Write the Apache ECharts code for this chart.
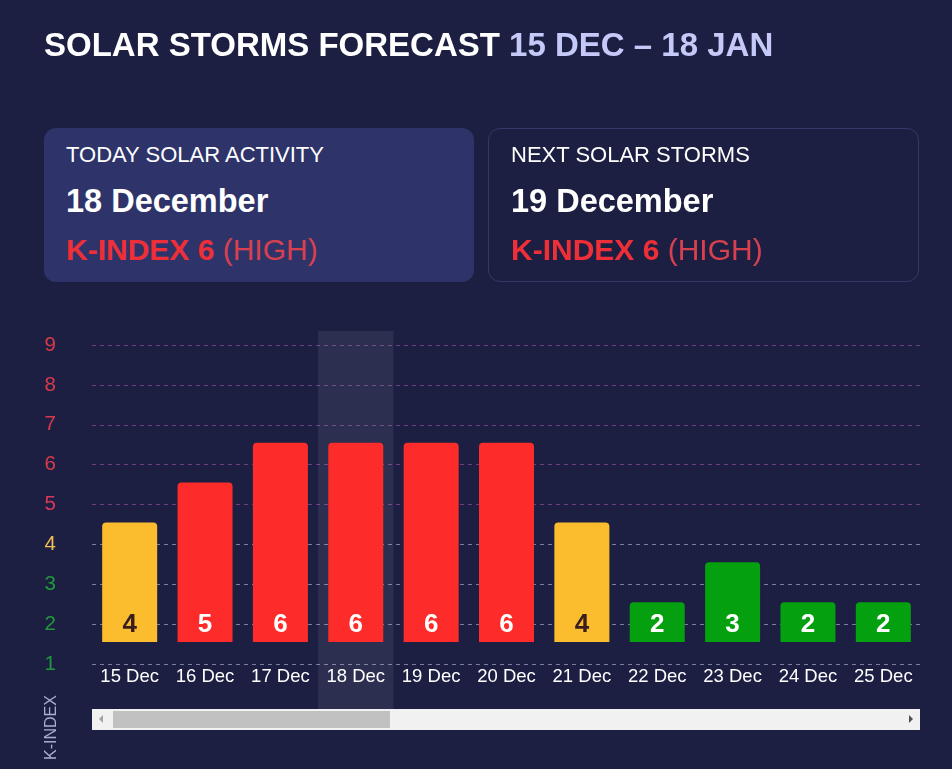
<!DOCTYPE html>
<html>
<head>
<meta charset="utf-8">
<script src="https://cdn.jsdelivr.net/npm/echarts@6/dist/echarts.min.js"></script>
<style>
  html, body { margin: 0; padding: 0; background: #1c1f42; width: 952px; height: 769px; overflow: hidden; font-family: "Liberation Sans", Arial, sans-serif; }
  #chart { position: absolute; left: 0; top: 0; width: 952px; height: 769px; }
  .title { position: absolute; left: 44px; top: 26px; font-size: 33px; line-height: 38px; font-weight: bold; color: #fff; white-space: nowrap; }
  .title span { color: #c5c9f7; }
  .card { position: absolute; top: 128px; width: 430px; height: 154px; border-radius: 12px; box-sizing: border-box; }
  .card.today { left: 44px; background: #2e3469; }
  .card.next { left: 488px; border: 1px solid #343a68; width: 431px; }
  .card .lbl { position: absolute; left: 22px; top: 14px; font-size: 22px; line-height: 26px; color: #fff; }
  .card .date { position: absolute; left: 22px; top: 54px; font-size: 32.5px; line-height: 38px; font-weight: bold; color: #fff; }
  .card .k { position: absolute; left: 22px; top: 104px; font-size: 30px; line-height: 36px; color: #d9404f; white-space: nowrap; }
  .card .k b { color: #ee2f38; }
  .card.next .lbl { top: 13px; }
  .card.next .date { top: 53px; }
  .card.next .k { top: 103px; }
  .kname { position: absolute; left: 42px; top: 688px; height: 72px; font-size: 16px; color: #a9acd3; writing-mode: vertical-rl; transform: rotate(180deg); text-align: left; }
  .sb { position: absolute; left: 92px; top: 709px; width: 828px; height: 21px; background: #f1f1f1; }
  .sb .thumb { position: absolute; left: 21px; top: 2px; width: 277px; height: 17px; background: #c1c1c1; }
  .sb .la { position: absolute; left: 7px; top: 6px; width: 0; height: 0; border-top: 4px solid transparent; border-bottom: 4px solid transparent; border-right: 4px solid #a3a3a3; }
  .sb .ra { position: absolute; right: 7px; top: 6px; width: 0; height: 0; border-top: 4px solid transparent; border-bottom: 4px solid transparent; border-left: 4px solid #505050; }
</style>
</head>
<body>
<div id="chart"></div>
<div class="title">SOLAR STORMS FORECAST <span>15 DEC – 18 JAN</span></div>
<div class="card today">
  <div class="lbl">TODAY SOLAR ACTIVITY</div>
  <div class="date">18 December</div>
  <div class="k"><b>K-INDEX 6</b> (HIGH)</div>
</div>
<div class="card next">
  <div class="lbl">NEXT SOLAR STORMS</div>
  <div class="date">19 December</div>
  <div class="k"><b>K-INDEX 6</b> (HIGH)</div>
</div>
<div class="kname">K-INDEX</div>
<div class="sb"><div class="la"></div><div class="thumb"></div><div class="ra"></div></div>
<script>
// ---- data ----
const categories = ['15 Dec', '16 Dec', '17 Dec', '18 Dec', '19 Dec', '20 Dec', '21 Dec', '22 Dec', '23 Dec', '24 Dec', '25 Dec'];
const kIndex = [4, 5, 6, 6, 6, 6, 4, 2, 3, 2, 2];
const yTicks = [1, 2, 3, 4, 5, 6, 7, 8, 9];
const today = '18 Dec';

// ---- styling helpers ----
function barColor(v) { return v >= 5 ? '#fe2b2b' : (v === 4 ? '#fbbd2e' : '#05a00f'); }
function labelColor(v) { return v === 4 ? '#3a1d1d' : '#ffffff'; }
function tickColor(v) { return v >= 6 ? '#d93a4b' : (v === 5 ? '#d9385a' : (v === 4 ? '#f2bf52' : '#1f9a3a')); }
const gridLineColors = yTicks.map(v => v >= 5 ? '#6e3c80' : '#7a7ca0');

const chart = echarts.init(document.getElementById('chart'), null, { renderer: 'canvas' });
chart.setOption({
  backgroundColor: 'transparent',
  animation: false,
  grid: [
    { left: 92, right: 31, top: 345, bottom: 105 },
    { left: 92, right: 31, top: 331, bottom: 60 }
  ],
  xAxis: [
    {
      type: 'category', gridIndex: 0, data: categories, boundaryGap: true,
      axisLine: { show: false }, axisTick: { show: false },
      axisLabel: { color: '#ffffff', fontSize: 18.5, margin: 3, interval: 0, hideOverlap: false, fontFamily: 'Liberation Sans' }
    },
    { type: 'category', gridIndex: 1, data: categories, show: false }
  ],
  yAxis: [
    { type: 'value', gridIndex: 0, min: 0.45, max: 8.45, startValue: 1, show: false },
    {
      type: 'value', gridIndex: 0, min: 1, max: 9, interval: 1, position: 'left',
      axisLine: { show: false }, axisTick: { show: false },
      axisLabel: {
        fontSize: 20.5, margin: 36, fontFamily: 'Liberation Sans',
        color: function (v) { return tickColor(Number(v)); }
      },
      splitLine: { show: true, lineStyle: { type: [4, 4], color: gridLineColors, width: 1 } }
    },
    { type: 'value', gridIndex: 1, min: 0, max: 1, show: false }
  ],
  series: [
    {
      type: 'bar', xAxisIndex: 1, yAxisIndex: 2, barWidth: '100%', z: 0, silent: true,
      data: categories.map(c => c === today ? 1 : null),
      itemStyle: { color: 'rgba(255,255,255,0.075)' }
    },
    {
      type: 'bar', xAxisIndex: 0, yAxisIndex: 0, barWidth: 55, z: 2,
      data: kIndex.map(v => ({
        value: v,
        itemStyle: { color: barColor(v), borderRadius: [4, 4, 0, 0] },
        label: { color: labelColor(v) }
      })),
      label: {
        show: true, position: 'insideBottom', distance: 4,
        fontSize: 26, fontWeight: 'bold', fontFamily: 'Liberation Sans'
      }
    }
  ]
});
</script>
</body>
</html>
